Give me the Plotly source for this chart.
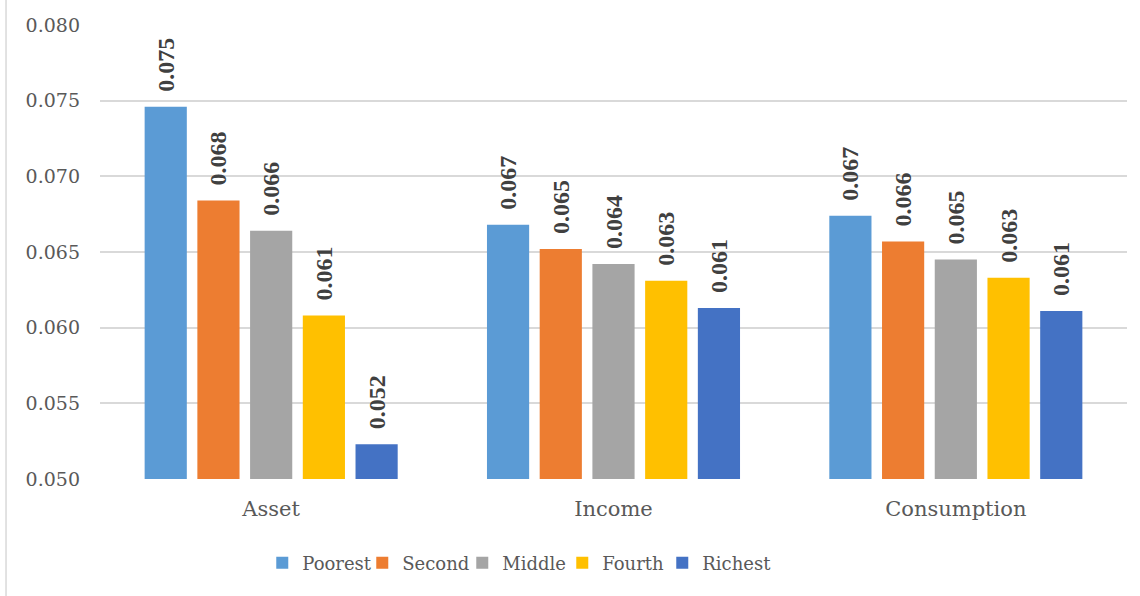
import plotly.graph_objects as go

categories = ["Asset", "Income", "Consumption"]
series_names = ["Poorest", "Second", "Middle", "Fourth", "Richest"]
poorest = [0.0746, 0.0668, 0.0674]
second = [0.0684, 0.0652, 0.0657]
middle = [0.0664, 0.0642, 0.0645]
fourth = [0.0608, 0.0631, 0.0633]
richest = [0.0523, 0.0613, 0.0611]
values = [poorest, second, middle, fourth, richest]
colors = ["#5B9BD5", "#ED7D31", "#A5A5A5", "#FFC000", "#4472C4"]
y_ticks = [0.050, 0.055, 0.060, 0.065, 0.070, 0.075, 0.080]
y_ticktext = ["0.050", "0.055", "0.060", "0.065", "0.070", "0.075", "0.080"]

SERIF = "DejaVu Serif"
fig = go.Figure()
for name, vals, col in zip(series_names, values, colors):
    fig.add_trace(go.Bar(
        name=name, x=categories, y=vals, marker=dict(color=col, line=dict(width=0)),
        text=["\u00a0\u00a0" + f"{v:.3f}" for v in vals],
        textposition="outside", textangle=-90, constraintext="none",
        textfont=dict(family="Liberation Serif", size=24, color="#404040", weight="bold"),
        cliponaxis=False,
    ))

# invisible spacer entry so the last legend label is not clipped
fig.add_trace(go.Scatter(x=[None], y=[None], mode="markers", name=" ",
                         marker=dict(color="rgba(0,0,0,0)", size=1),
                         hoverinfo="skip", showlegend=True))

fig.update_layout(
    width=1140, height=596,
    margin=dict(l=100, r=13, t=25, b=117),
    paper_bgcolor="white", plot_bgcolor="white",
    barmode="group", bargap=0.23, bargroupgap=0.2,
    showlegend=True,
    legend=dict(orientation="h", x=0.158, xanchor="left", y=-0.185, yanchor="middle",
                font=dict(family=SERIF, size=18, color="#595959"),
                itemwidth=30, traceorder="normal",
                entrywidth=55, entrywidthmode="pixels"),
    xaxis=dict(showgrid=False, showline=False, ticks="",
               tickfont=dict(family=SERIF, size=21, color="#595959"),
               ticklabelstandoff=15),
    yaxis=dict(range=[0.050, 0.080], tickvals=y_ticks, ticktext=y_ticktext,
               showgrid=True, gridcolor="#D9D9D9", gridwidth=1.5, zeroline=False,
               showline=False, ticks="",
               tickfont=dict(family=SERIF, size=19, color="#595959"),
               ticklabelstandoff=19),
    shapes=[dict(type="line", xref="paper", yref="paper",
                 x0=-0.0915, x1=-0.0915, y0=-0.26, y1=1.06,
                 line=dict(color="#D9D9D9", width=1.5))],
)

fig.write_html("out.html")
